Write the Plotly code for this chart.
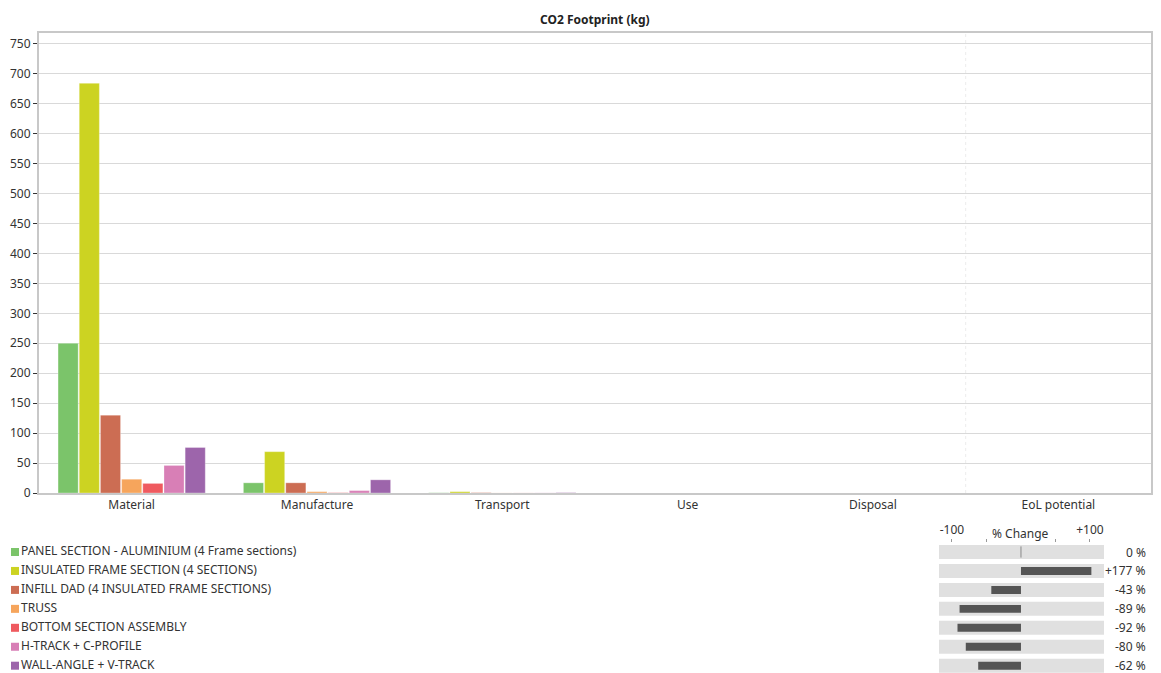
import plotly.graph_objects as go

# Life-cycle stages shown on the category axis
stages = ["Material", "Manufacture", "Transport", "Use", "Disposal", "EoL potential"]

# Components compared in the chart
components = [
    "PANEL SECTION - ALUMINIUM (4 Frame sections)",
    "INSULATED FRAME SECTION (4 SECTIONS)",
    "INFILL DAD (4 INSULATED FRAME SECTIONS)",
    "TRUSS",
    "BOTTOM SECTION ASSEMBLY",
    "H-TRACK + C-PROFILE",
    "WALL-ANGLE + V-TRACK",
]

# CO2 footprint (kg) per component, one value per stage
panel_section = [250, 17, 0.4, 0, 0, 0]
insulated_frame = [684, 69, 2.2, 0, 0, 0]
infill_dad = [130, 17, 0.6, 0, 0, 0]
truss = [23, 2.2, 0.1, 0, 0, 0]
bottom_section = [16, 0.5, 0.1, 0, 0, 0]
h_track = [46, 4, 0.2, 0, 0, 0]
wall_angle = [76, 22, 0.6, 0, 0, 0]

series_values = [panel_section, insulated_frame, infill_dad, truss,
                 bottom_section, h_track, wall_angle]

# Percentage change relative to the first component
pct_change = [0, 177, -43, -89, -92, -80, -62]
pct_labels = ["0 %", "+177 %", "-43 %", "-89 %", "-92 %", "-80 %", "-62 %"]

# Y axis tick values
y_ticks = list(range(0, 751, 50))

colors = ["#7bc46a", "#ccd322", "#cc6d53", "#f6a55c", "#ef5a5f", "#d87fb6", "#9d65ab"]

W, H = 1161, 681
H_Y = 673.0  # height used for vertical placement of the panels
FONT = "Noto Sans"
TXT = "#333333"
FRAME = "#c8c8c8"


def px_x(p):
    return p / W


def px_y(p):
    return (H_Y - p) / H_Y


fig = go.Figure()

# Grouped bars of the main chart
for name, vals, col in zip(components, series_values, colors):
    fig.add_trace(go.Bar(
        x=stages, y=vals, name=name,
        marker=dict(color=col, line=dict(color="rgba(255,255,255,0.6)", width=0.5)),
        xaxis="x", yaxis="y", showlegend=False,
        hovertemplate="%{x}: %{y} kg<extra>" + name + "</extra>",
    ))

rows = list(range(len(components)))

# Legend drawn as markers + text on its own axis
fig.add_trace(go.Scatter(
    x=[15] * len(components), y=rows, mode="markers+text",
    marker=dict(symbol="square", size=8, color=colors),
    text=components, textposition="middle right",
    textfont=dict(family=FONT, size=12, color=TXT),
    xaxis="x3", yaxis="y2", showlegend=False, hoverinfo="skip",
    cliponaxis=False,
))

# % change panel: light tracks and dark bars
X2_MIN, X2_MAX = -118.8, 120.3
fig.add_trace(go.Bar(
    x=[X2_MAX - X2_MIN] * len(rows), y=rows, base=[X2_MIN] * len(rows),
    orientation="h", width=0.74, offset=-0.37,
    marker=dict(color="#e0e0e0", line=dict(width=0)),
    xaxis="x2", yaxis="y2", showlegend=False, hoverinfo="skip",
    cliponaxis=False,
))
shown = [max(min(v, 102), -110) for v in pct_change]
fig.add_trace(go.Bar(
    x=shown, y=rows, orientation="h", width=0.42, offset=-0.21,
    marker=dict(color="#555555", line=dict(width=0)),
    xaxis="x2", yaxis="y2", showlegend=False,
    customdata=pct_labels, hovertemplate="%{customdata}<extra></extra>",
    cliponaxis=False,
))
zero_rows = [r for r, v in zip(rows, pct_change) if v == 0]
fig.add_trace(go.Scatter(
    x=[0] * len(zero_rows), y=zero_rows, mode="markers",
    marker=dict(symbol="line-ns", size=8, line=dict(color="#888888", width=1)),
    xaxis="x2", yaxis="y2", showlegend=False, hoverinfo="skip",
    cliponaxis=False,
))

annotations = []
for r, lab in zip(rows, pct_labels):
    annotations.append(dict(
        x=px_x(1148), xref="paper", xanchor="right",
        y=r, yref="y2", yanchor="middle",
        text=lab, showarrow=False,
        font=dict(family=FONT, size=12, color=TXT),
    ))
annotations.append(dict(
    x=0, xref="x2", xanchor="center",
    y=px_y(533), yref="paper", yanchor="middle",
    text="% Change", showarrow=False,
    font=dict(family=FONT, size=12, color=TXT),
))
annotations.append(dict(
    x=0.5 * (px_x(39) + px_x(1151)), xref="paper", xanchor="center",
    y=px_y(19), yref="paper", yanchor="middle",
    text="<b>CO2 Footprint (kg)</b>", showarrow=False,
    font=dict(family=FONT, size=12, color="#222222"),
))

ROW0, ROW_STEP = 552.0, 18.95
y_top = px_y(ROW0 - 0.5 * ROW_STEP)
y2_bottom_val = (H_Y - ROW0) / ROW_STEP

fig.update_layout(
    width=W, height=H,
    margin=dict(l=0, r=0, t=0, b=0),
    paper_bgcolor="white", plot_bgcolor="white",
    barmode="group", bargap=0.2, bargroupgap=0.05,
    font=dict(family=FONT, size=12, color=TXT),
    showlegend=False,
    annotations=annotations,
    xaxis=dict(
        domain=[px_x(39), px_x(1151)], type="category",
        categoryorder="array", categoryarray=stages,
        showline=True, mirror=True, linecolor=FRAME, linewidth=2,
        showgrid=False, ticks="", tickfont=dict(size=12, color=TXT),
        zeroline=False, fixedrange=True,
    ),
    yaxis=dict(
        domain=[px_y(493), px_y(33)], range=[0, 768],
        tickvals=y_ticks, ticks="outside", ticklen=4, tickcolor="#333333",
        showline=True, mirror=True, linecolor=FRAME, linewidth=2,
        showgrid=True, gridcolor="#d9d9d9", gridwidth=1,
        zeroline=False, tickfont=dict(size=12, color=TXT), fixedrange=True,
    ),
    xaxis2=dict(
        domain=[px_x(939), px_x(1104)], range=[X2_MIN, X2_MAX],
        anchor="y2", side="top",
        tickvals=[-100, -50, 50, 100], ticktext=["-100", "", "", "+100"],
        ticks="outside", ticklen=3, tickcolor="#999999",
        showgrid=False, zeroline=False, showline=False,
        tickfont=dict(size=12, color=TXT), fixedrange=True,
    ),
    yaxis2=dict(
        domain=[0, y_top], range=[y2_bottom_val, -0.5],
        anchor="x2", visible=False, fixedrange=True,
    ),
    xaxis3=dict(
        domain=[0, px_x(600)], range=[0, 600], anchor="y2",
        visible=False, fixedrange=True,
    ),
    shapes=[dict(
        type="line", xref="x", yref="y", x0=4.5, x1=4.5, y0=0, y1=768,
        line=dict(color="#ececec", width=1, dash="dot"), layer="below",
    )],
)

fig.write_html("out.html")
